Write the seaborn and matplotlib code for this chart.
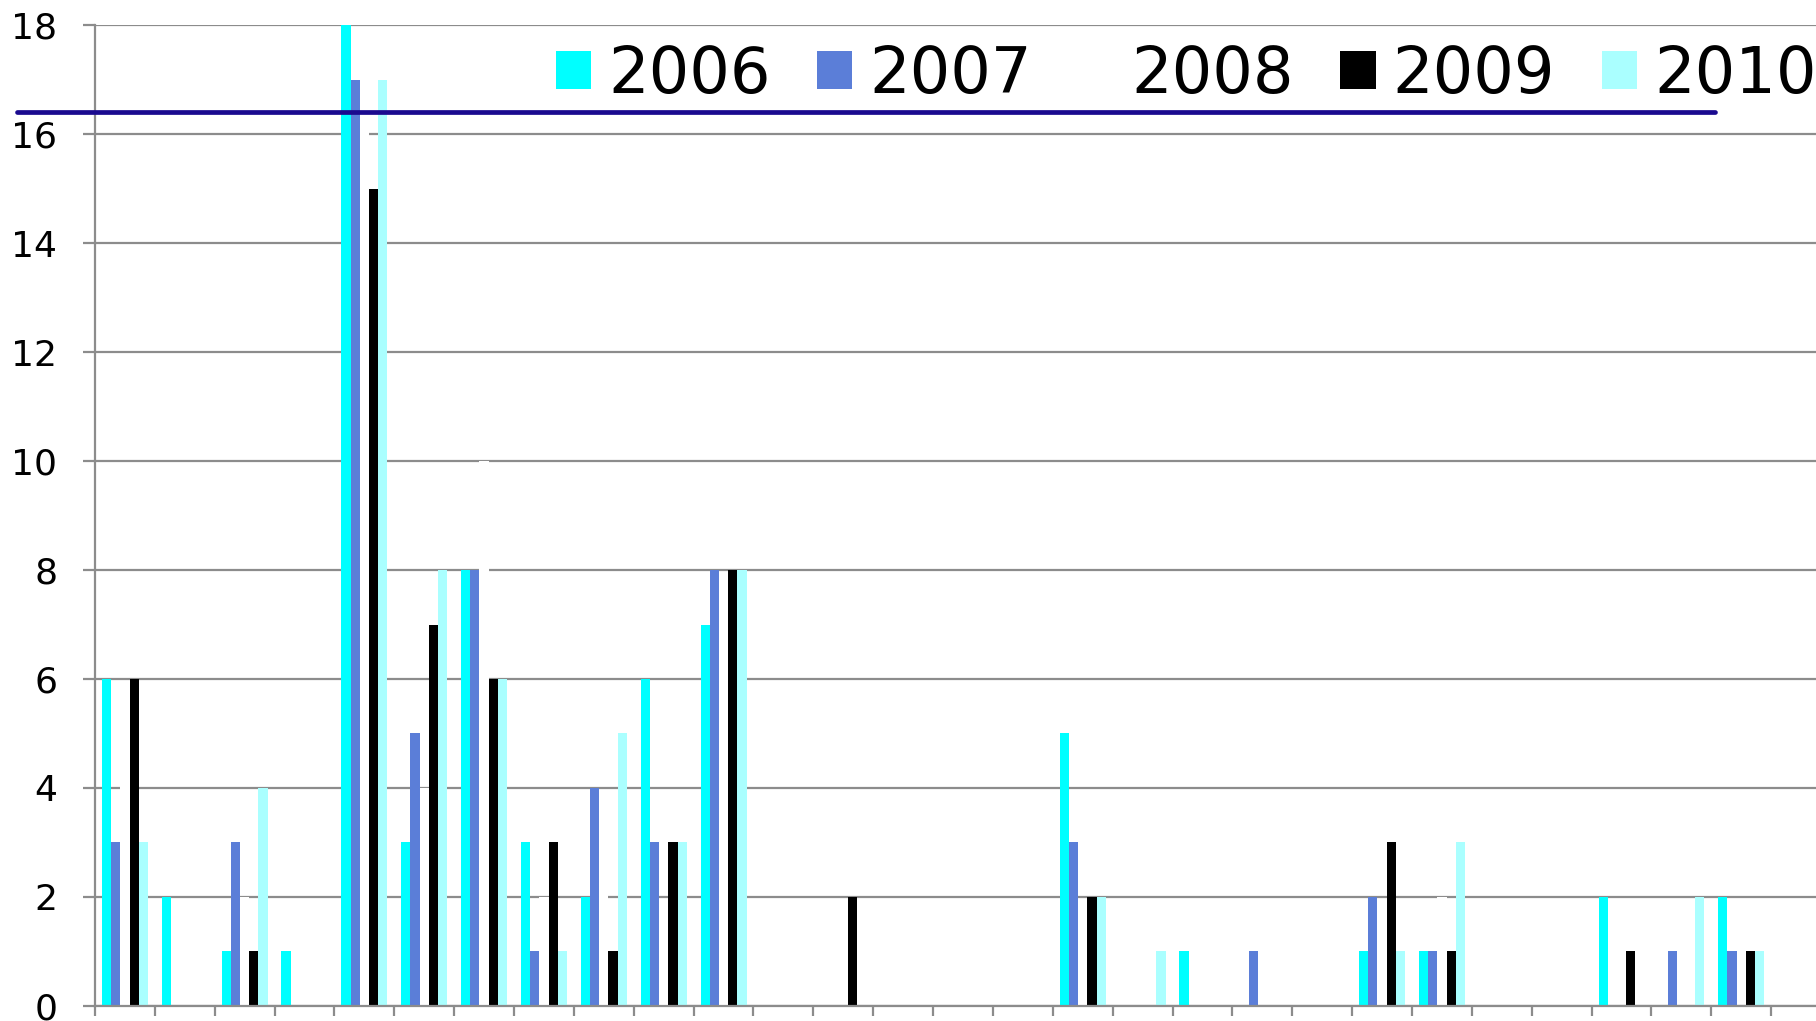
import numpy as np
import pandas as pd
import seaborn as sns
import matplotlib.pyplot as plt

# counts per column for each year
years = ['2006', '2007', '2008', '2009', '2010']
slots = [str(i) for i in range(1, 30)]

y2006 = [6, 2, 1, 1, 18, 3, 8, 3, 2, 6, 7, 0, 0, 0, 0, 0, 5, 0, 1, 0, 0, 1, 1, 0, 0, 2, 0, 2, 0]
y2007 = [3, 0, 3, 0, 17, 5, 8, 1, 4, 3, 8, 0, 0, 0, 0, 0, 3, 0, 0, 1, 0, 2, 1, 0, 0, 0, 1, 1, 0]
y2008 = [5, 0, 2, 0, 17, 4, 10, 2, 3, 1, 7, 0, 0, 0, 0, 0, 1, 0, 0, 0, 0, 1, 2, 0, 0, 0, 0, 0, 0]
y2009 = [6, 0, 1, 0, 15, 7, 6, 3, 1, 3, 8, 0, 2, 0, 0, 0, 2, 0, 0, 0, 0, 3, 1, 0, 0, 1, 0, 1, 0]
y2010 = [3, 0, 4, 0, 17, 8, 6, 1, 5, 3, 8, 0, 0, 0, 0, 0, 2, 1, 0, 0, 0, 1, 3, 0, 0, 0, 2, 1, 0]

# the dark horizontal marker line drawn across the chart
ref_level = 16.4

colors = {'2006': '#00FFFF', '2007': '#5B7ED8', '2008': '#FFFFFF',
          '2009': '#000000', '2010': '#AAFFFF'}

# long form table for seaborn
df = pd.DataFrame({
    'slot': slots * 5,
    'year': [y for y in years for _ in slots],
    'count': y2006 + y2007 + y2008 + y2009 + y2010,
})

sns.set_style('white')
plt.rcParams['font.family'] = ['DejaVu Sans']
plt.rcParams['text.color'] = 'black'

fig = plt.figure(figsize=(18.16, 10.21), dpi=100)
# plot area runs a little past the right edge, like the cropped original
ax = fig.add_axes([0.0523, 0.0147, 0.956, 0.9608])

sns.barplot(data=df, x='slot', y='count', hue='year', order=slots,
            hue_order=years, palette=colors, width=5 / 6.5, saturation=1,
            errorbar=None, linewidth=0, ax=ax)

ax.set_xlim(-0.5, len(slots) - 0.5)
ax.set_ylim(0, 18)
ax.set_yticks(np.arange(0, 19, 2))
ax.set_xticks(np.arange(-0.5, len(slots), 1))
ax.set_xticklabels([])
ax.set_xlabel('')
ax.set_ylabel('')

grid_col = '#8C8C8C'
ax.set_axisbelow(True)
ax.yaxis.grid(True, color=grid_col, linewidth=1.6)
for side in ['top', 'right']:
    ax.spines[side].set_visible(False)
for side in ['left', 'bottom']:
    ax.spines[side].set_color(grid_col)
    ax.spines[side].set_linewidth(1.6)
ax.tick_params(axis='y', direction='out', length=9, width=1.6, color=grid_col,
               labelsize=26, labelcolor='black', pad=18, left=True)
ax.tick_params(axis='x', direction='out', length=7, width=1.6, color=grid_col,
               bottom=True)

ax.axhline(ref_level, xmin=-0.045, xmax=0.933, color='#1A0A8F', linewidth=3.4,
           clip_on=False, zorder=5)

leg = ax.get_legend()
handles = leg.legend_handles
labels = [t.get_text() for t in leg.get_texts()]
leg.remove()
for h in handles:
    h.set_linewidth(0)
fig.legend(handles, labels, loc='center left', bbox_to_anchor=(0.306, 0.927),
           ncol=5, frameon=False, fontsize=46, handlelength=0.55,
           handleheight=0.52, handletextpad=0.27, columnspacing=0.73,
           borderpad=0, borderaxespad=0, labelcolor='black')

plt.savefig('out.png', dpi=100)
